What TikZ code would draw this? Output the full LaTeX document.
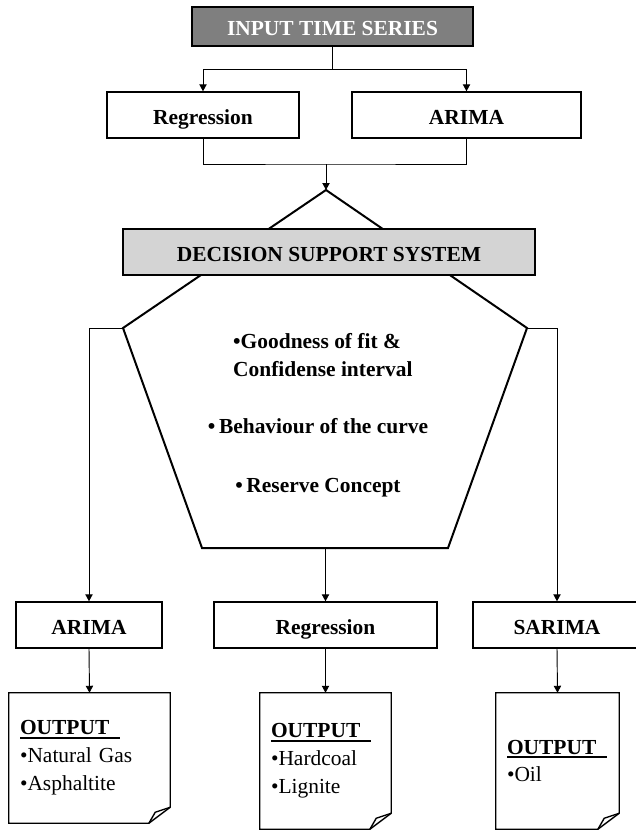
\documentclass[tikz,border=0pt]{standalone}
\usepackage{fontspec}
\setmainfont{Liberation Serif}
\usepackage{tikz}
\usetikzlibrary{arrows.meta,calc}

\definecolor{inpgray}{HTML}{7F7F7F}
\definecolor{dssgray}{HTML}{D4D4D4}
\newcommand{\outhead}{\rlap{\rule[-3.2pt]{30mm}{1.8pt}}\textbf{OUTPUT}}

\begin{document}
\begin{tikzpicture}[
    x=0.3mm, y=-0.3mm,
    >={Triangle[length=2.1mm,width=2.2mm]},
    box/.style={rectangle, draw, line width=1.2pt, minimum height=13.8mm, text height=16.5pt, text depth=1.1pt, font=\fontsize{18.3}{22}\selectfont\bfseries},
    conn/.style={line width=0.8pt},
    pent/.style={line width=1.7pt, line join=miter},
    crit/.style={font=\fontsize{18.3}{23.8}\selectfont\bfseries, inner sep=0pt},
    doc/.style={rectangle, inner xsep=3.3mm, align=left, font=\fontsize{18.3}{23.8}\selectfont},
    docline/.style={line width=1.2pt, line join=miter}
]
\useasboundingbox (0,0) rectangle (635,831);

% === Input and the two models ===
\node[box, fill=inpgray, text=white, minimum width=84.3mm, minimum height=11.7mm] (inp) at (332.5,26.5) {INPUT TIME SERIES};
\node[box, minimum width=57.6mm] (reg1) at (203,115) {Regression};
\node[box, minimum width=68.7mm] (ari1) at (466.5,115) {ARIMA};

\coordinate (split) at (332.5,69);
\coordinate (join) at (326,164);

% === Decision support pentagon ===
\coordinate (pa) at (326,190);
\coordinate (pl) at (123,328);
\coordinate (pr) at (527,328);
\coordinate (pbl) at (202,548);
\coordinate (pbr) at (448,548);
\coordinate (pb) at (325.5,548);
\draw[pent] (pa) -- (pr) -- (pbr) -- (pbl) -- (pl) -- cycle;

\node[box, fill=dssgray, minimum width=123.6mm] (dss) at (329,252) {DECISION SUPPORT SYSTEM};

\node[crit, align=left, anchor=north west] (crit1) at (233,333) {\textbullet Goodness of fit \&\\Confidense interval};
\node[crit, anchor=base] (crit2) at (318,433) {\textbullet\,Behaviour of the curve};
\node[crit, anchor=base] (crit3) at (318,492) {\textbullet\,Reserve Concept};

% === Selected models ===
\node[box, minimum width=43.8mm] (ari2) at (89,625) {ARIMA};
\node[box, minimum width=66.9mm] (reg2) at (325.5,625) {Regression};
\node[box, minimum width=50.4mm] (sar2) at (557,625) {SARIMA};

% === Outputs ===
\node[doc, text width=41.7mm, minimum height=39mm] (out1) at (89.5,758) {\outhead\\\textbullet Natural Gas\\\textbullet Asphaltite};
\node[doc, text width=32.7mm, minimum height=40.8mm] (out2) at (325.5,761) {\outhead\\\textbullet Hardcoal\\\textbullet Lignite};
\node[doc, text width=30.3mm, minimum height=40.8mm] (out3) at (557.5,761) {\outhead\\\textbullet Oil};

\foreach \d in {out1,out2,out3} {
  \draw[docline] (\d.north west) -- (\d.north east) -- ([yshift=4.8mm]\d.south east) -- ([xshift=-6.4mm]\d.south east) -- (\d.south west) -- cycle;
  \draw[docline] ([yshift=4.8mm]\d.south east) .. controls ([xshift=-2.5mm,yshift=3.9mm]\d.south east) .. ([xshift=-4.5mm,yshift=3.3mm]\d.south east) -- ([xshift=-6.4mm]\d.south east);
}

% Connectors
\draw[conn] (inp.south) -- (split);
\draw[conn,->] (split) -| (reg1.north);
\draw[conn,->] (split) -| (ari1.north);
\draw[conn] (reg1.south) |- (join) -| (ari1.south);
\draw[conn,->] (join) -- (pa);
\draw[conn,->] (pl) -| (ari2.north);
\draw[conn,->] (pr) -| (sar2.north);
\draw[conn,->] (pb) -- (reg2.north);
\draw[conn,->] (ari2.south) -- (out1.north);
\draw[conn,->] (reg2.south) -- (out2.north);
\draw[conn,->] (sar2.south) -- (out3.north);
\end{tikzpicture}
\end{document}
